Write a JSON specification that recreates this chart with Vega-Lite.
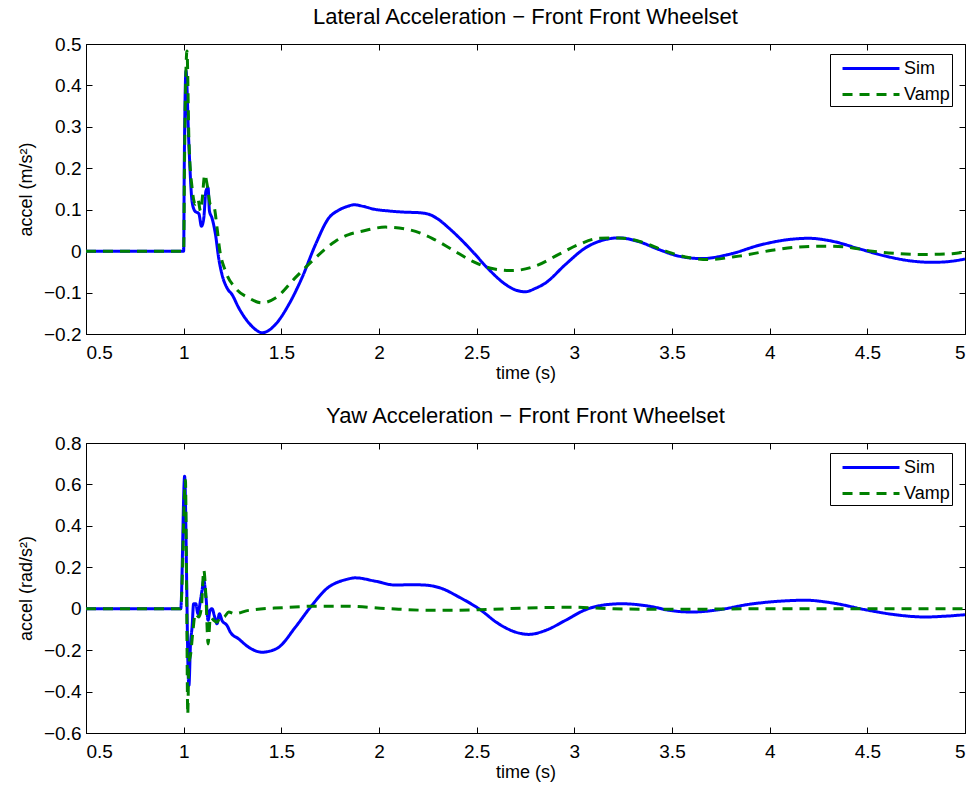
{
  "$schema": "https://vega.github.io/schema/vega-lite/v6.json",
  "background": "white",
  "padding": {"left": 16, "top": 5, "right": 5, "bottom": 5},
  "config": {
    "font": "Liberation Sans",
    "view": {"stroke": "black", "strokeWidth": 1},
    "axis": {
      "grid": false, "domainColor": "black", "domainWidth": 1, "tickColor": "black", "tickWidth": 1, "tickSize": -6,
      "labelColor": "black", "labelFontSize": 19,
      "titleColor": "black", "titleFontSize": 18, "titleFontWeight": "normal"
    },
    "axisX": {"labelPadding": 15, "titlePadding": 2},
    "axisY": {"labelPadding": 11, "titlePadding": 8},
    "title": {"fontSize": 22, "fontWeight": "normal", "color": "black", "offset": 6},
    "legend": {
      "orient": "none", "legendX": 744, "legendY": 10, "fillColor": "white", "strokeColor": "black",
      "padding": 2, "labelFontSize": 18, "labelColor": "black", "symbolType": "M-0.18,0H5",
      "symbolStrokeWidth": 3, "symbolSize": 484, "rowPadding": 4, "labelOffset": 47
    },
    "concat": {"spacing": 21}
  },
  "datasets": {
    "lat": [
      {"t": 0.5, "v": 0, "s": "Sim"}, {"t": 1.0, "v": 0, "s": "Sim"}, {"t": 1.003, "v": 0.2, "s": "Sim"},
      {"t": 1.012, "v": 0.435, "s": "Sim"}, {"t": 1.026, "v": 0.266, "s": "Sim"}, {"t": 1.043, "v": 0.12, "s": "Sim"},
      {"t": 1.057, "v": 0.097, "s": "Sim"}, {"t": 1.078, "v": 0.09, "s": "Sim"}, {"t": 1.091, "v": 0.06, "s": "Sim"},
      {"t": 1.103, "v": 0.08, "s": "Sim"}, {"t": 1.114, "v": 0.145, "s": "Sim"}, {"t": 1.125, "v": 0.153, "s": "Sim"},
      {"t": 1.132, "v": 0.097, "s": "Sim"}, {"t": 1.145, "v": 0.08, "s": "Sim"}, {"t": 1.163, "v": 0.04, "s": "Sim"},
      {"t": 1.179, "v": -0.016, "s": "Sim"}, {"t": 1.196, "v": -0.056, "s": "Sim"}, {"t": 1.222, "v": -0.089, "s": "Sim"},
      {"t": 1.248, "v": -0.105, "s": "Sim"}, {"t": 1.282, "v": -0.137, "s": "Sim"}, {"t": 1.333, "v": -0.173, "s": "Sim"},
      {"t": 1.37, "v": -0.19, "s": "Sim"}, {"t": 1.401, "v": -0.197, "s": "Sim"}, {"t": 1.43, "v": -0.193, "s": "Sim"},
      {"t": 1.47, "v": -0.177, "s": "Sim"}, {"t": 1.538, "v": -0.129, "s": "Sim"}, {"t": 1.606, "v": -0.064, "s": "Sim"},
      {"t": 1.675, "v": 0.016, "s": "Sim"}, {"t": 1.743, "v": 0.08, "s": "Sim"}, {"t": 1.794, "v": 0.099, "s": "Sim"},
      {"t": 1.845, "v": 0.109, "s": "Sim"}, {"t": 1.872, "v": 0.112, "s": "Sim"}, {"t": 1.92, "v": 0.108, "s": "Sim"},
      {"t": 1.977, "v": 0.101, "s": "Sim"}, {"t": 2.05, "v": 0.097, "s": "Sim"}, {"t": 2.135, "v": 0.094, "s": "Sim"},
      {"t": 2.2, "v": 0.093, "s": "Sim"}, {"t": 2.255, "v": 0.089, "s": "Sim"}, {"t": 2.3, "v": 0.078, "s": "Sim"},
      {"t": 2.357, "v": 0.056, "s": "Sim"}, {"t": 2.42, "v": 0.028, "s": "Sim"}, {"t": 2.477, "v": 0.0, "s": "Sim"},
      {"t": 2.562, "v": -0.044, "s": "Sim"}, {"t": 2.647, "v": -0.08, "s": "Sim"}, {"t": 2.7, "v": -0.094, "s": "Sim"},
      {"t": 2.75, "v": -0.098, "s": "Sim"}, {"t": 2.8, "v": -0.09, "s": "Sim"}, {"t": 2.852, "v": -0.077, "s": "Sim"},
      {"t": 2.955, "v": -0.032, "s": "Sim"}, {"t": 3.057, "v": 0.008, "s": "Sim"}, {"t": 3.159, "v": 0.028, "s": "Sim"},
      {"t": 3.228, "v": 0.032, "s": "Sim"}, {"t": 3.33, "v": 0.023, "s": "Sim"}, {"t": 3.432, "v": 0.004, "s": "Sim"},
      {"t": 3.534, "v": -0.012, "s": "Sim"}, {"t": 3.654, "v": -0.018, "s": "Sim"}, {"t": 3.79, "v": -0.008, "s": "Sim"},
      {"t": 3.961, "v": 0.016, "s": "Sim"}, {"t": 4.098, "v": 0.028, "s": "Sim"}, {"t": 4.2, "v": 0.031, "s": "Sim"},
      {"t": 4.32, "v": 0.024, "s": "Sim"}, {"t": 4.456, "v": 0.006, "s": "Sim"}, {"t": 4.593, "v": -0.012, "s": "Sim"},
      {"t": 4.729, "v": -0.024, "s": "Sim"}, {"t": 4.832, "v": -0.027, "s": "Sim"}, {"t": 4.92, "v": -0.025, "s": "Sim"},
      {"t": 5.0, "v": -0.019, "s": "Sim"},
      {"t": 0.5, "v": 0, "s": "Vamp"}, {"t": 1.0, "v": 0, "s": "Vamp"}, {"t": 1.004, "v": 0.2, "s": "Vamp"},
      {"t": 1.017, "v": 0.483, "s": "Vamp"}, {"t": 1.027, "v": 0.266, "s": "Vamp"}, {"t": 1.043, "v": 0.153, "s": "Vamp"},
      {"t": 1.06, "v": 0.113, "s": "Vamp"}, {"t": 1.073, "v": 0.125, "s": "Vamp"}, {"t": 1.086, "v": 0.097, "s": "Vamp"},
      {"t": 1.094, "v": 0.121, "s": "Vamp"}, {"t": 1.108, "v": 0.185, "s": "Vamp"}, {"t": 1.12, "v": 0.161, "s": "Vamp"},
      {"t": 1.137, "v": 0.113, "s": "Vamp"}, {"t": 1.154, "v": 0.109, "s": "Vamp"}, {"t": 1.171, "v": 0.056, "s": "Vamp"},
      {"t": 1.183, "v": 0.008, "s": "Vamp"}, {"t": 1.214, "v": -0.048, "s": "Vamp"}, {"t": 1.265, "v": -0.089, "s": "Vamp"},
      {"t": 1.333, "v": -0.113, "s": "Vamp"}, {"t": 1.401, "v": -0.125, "s": "Vamp"}, {"t": 1.47, "v": -0.113, "s": "Vamp"},
      {"t": 1.572, "v": -0.064, "s": "Vamp"}, {"t": 1.675, "v": -0.016, "s": "Vamp"}, {"t": 1.777, "v": 0.024, "s": "Vamp"},
      {"t": 1.845, "v": 0.04, "s": "Vamp"}, {"t": 1.913, "v": 0.048, "s": "Vamp"}, {"t": 2.033, "v": 0.058, "s": "Vamp"},
      {"t": 2.152, "v": 0.052, "s": "Vamp"}, {"t": 2.272, "v": 0.031, "s": "Vamp"}, {"t": 2.374, "v": 0.004, "s": "Vamp"},
      {"t": 2.477, "v": -0.024, "s": "Vamp"}, {"t": 2.579, "v": -0.042, "s": "Vamp"}, {"t": 2.681, "v": -0.047, "s": "Vamp"},
      {"t": 2.801, "v": -0.036, "s": "Vamp"}, {"t": 2.92, "v": -0.008, "s": "Vamp"}, {"t": 3.023, "v": 0.016, "s": "Vamp"},
      {"t": 3.125, "v": 0.031, "s": "Vamp"}, {"t": 3.228, "v": 0.032, "s": "Vamp"}, {"t": 3.33, "v": 0.024, "s": "Vamp"},
      {"t": 3.467, "v": 0.0, "s": "Vamp"}, {"t": 3.569, "v": -0.014, "s": "Vamp"}, {"t": 3.688, "v": -0.02, "s": "Vamp"},
      {"t": 3.842, "v": -0.012, "s": "Vamp"}, {"t": 4.012, "v": 0.002, "s": "Vamp"}, {"t": 4.149, "v": 0.01, "s": "Vamp"},
      {"t": 4.268, "v": 0.012, "s": "Vamp"}, {"t": 4.388, "v": 0.01, "s": "Vamp"}, {"t": 4.525, "v": 0.0, "s": "Vamp"},
      {"t": 4.661, "v": -0.006, "s": "Vamp"}, {"t": 4.798, "v": -0.008, "s": "Vamp"}, {"t": 4.934, "v": -0.006, "s": "Vamp"},
      {"t": 5.0, "v": -0.002, "s": "Vamp"}
    ],
    "yaw": [
      {"t": 0.5, "v": 0, "s": "Sim"}, {"t": 0.985, "v": 0, "s": "Sim"}, {"t": 1.005, "v": 0.64, "s": "Sim"},
      {"t": 1.016, "v": 0.089, "s": "Sim"}, {"t": 1.021, "v": -0.234, "s": "Sim"}, {"t": 1.027, "v": -0.37, "s": "Sim"},
      {"t": 1.035, "v": -0.17, "s": "Sim"}, {"t": 1.043, "v": -0.089, "s": "Sim"}, {"t": 1.051, "v": 0.024, "s": "Sim"},
      {"t": 1.062, "v": 0.024, "s": "Sim"}, {"t": 1.073, "v": -0.024, "s": "Sim"}, {"t": 1.086, "v": 0.041, "s": "Sim"},
      {"t": 1.094, "v": 0.089, "s": "Sim"}, {"t": 1.103, "v": 0.138, "s": "Sim"}, {"t": 1.114, "v": 0.057, "s": "Sim"},
      {"t": 1.125, "v": -0.056, "s": "Sim"}, {"t": 1.135, "v": -0.008, "s": "Sim"}, {"t": 1.145, "v": 0.0, "s": "Sim"},
      {"t": 1.159, "v": -0.04, "s": "Sim"}, {"t": 1.171, "v": -0.073, "s": "Sim"}, {"t": 1.183, "v": -0.024, "s": "Sim"},
      {"t": 1.196, "v": -0.056, "s": "Sim"}, {"t": 1.222, "v": -0.081, "s": "Sim"}, {"t": 1.239, "v": -0.113, "s": "Sim"},
      {"t": 1.282, "v": -0.146, "s": "Sim"}, {"t": 1.333, "v": -0.186, "s": "Sim"}, {"t": 1.401, "v": -0.21, "s": "Sim"},
      {"t": 1.44, "v": -0.205, "s": "Sim"}, {"t": 1.487, "v": -0.186, "s": "Sim"}, {"t": 1.572, "v": -0.089, "s": "Sim"},
      {"t": 1.657, "v": 0.017, "s": "Sim"}, {"t": 1.743, "v": 0.105, "s": "Sim"}, {"t": 1.794, "v": 0.13, "s": "Sim"},
      {"t": 1.828, "v": 0.14, "s": "Sim"}, {"t": 1.879, "v": 0.149, "s": "Sim"}, {"t": 1.981, "v": 0.133, "s": "Sim"},
      {"t": 2.084, "v": 0.114, "s": "Sim"}, {"t": 2.16, "v": 0.116, "s": "Sim"}, {"t": 2.238, "v": 0.114, "s": "Sim"},
      {"t": 2.323, "v": 0.097, "s": "Sim"}, {"t": 2.408, "v": 0.057, "s": "Sim"}, {"t": 2.511, "v": 0.0, "s": "Sim"},
      {"t": 2.613, "v": -0.073, "s": "Sim"}, {"t": 2.699, "v": -0.113, "s": "Sim"}, {"t": 2.767, "v": -0.124, "s": "Sim"},
      {"t": 2.852, "v": -0.105, "s": "Sim"}, {"t": 2.955, "v": -0.056, "s": "Sim"}, {"t": 3.057, "v": -0.005, "s": "Sim"},
      {"t": 3.159, "v": 0.019, "s": "Sim"}, {"t": 3.244, "v": 0.024, "s": "Sim"}, {"t": 3.347, "v": 0.017, "s": "Sim"},
      {"t": 3.432, "v": 0.003, "s": "Sim"}, {"t": 3.467, "v": -0.005, "s": "Sim"}, {"t": 3.603, "v": -0.016, "s": "Sim"},
      {"t": 3.74, "v": -0.005, "s": "Sim"}, {"t": 3.893, "v": 0.021, "s": "Sim"}, {"t": 4.047, "v": 0.036, "s": "Sim"},
      {"t": 4.184, "v": 0.041, "s": "Sim"}, {"t": 4.32, "v": 0.028, "s": "Sim"}, {"t": 4.491, "v": -0.005, "s": "Sim"},
      {"t": 4.627, "v": -0.027, "s": "Sim"}, {"t": 4.798, "v": -0.04, "s": "Sim"}, {"t": 4.9, "v": -0.036, "s": "Sim"},
      {"t": 5.0, "v": -0.029, "s": "Sim"},
      {"t": 0.5, "v": 0, "s": "Vamp"}, {"t": 0.985, "v": 0, "s": "Vamp"}, {"t": 1.009, "v": 0.62, "s": "Vamp"},
      {"t": 1.015, "v": 0.1, "s": "Vamp"}, {"t": 1.021, "v": -0.51, "s": "Vamp"}, {"t": 1.026, "v": -0.267, "s": "Vamp"},
      {"t": 1.036, "v": -0.218, "s": "Vamp"}, {"t": 1.046, "v": -0.121, "s": "Vamp"}, {"t": 1.06, "v": -0.024, "s": "Vamp"},
      {"t": 1.078, "v": -0.04, "s": "Vamp"}, {"t": 1.091, "v": 0.008, "s": "Vamp"}, {"t": 1.103, "v": 0.186, "s": "Vamp"},
      {"t": 1.114, "v": 0.057, "s": "Vamp"}, {"t": 1.125, "v": -0.17, "s": "Vamp"}, {"t": 1.137, "v": -0.04, "s": "Vamp"},
      {"t": 1.154, "v": -0.056, "s": "Vamp"}, {"t": 1.171, "v": -0.065, "s": "Vamp"}, {"t": 1.188, "v": -0.04, "s": "Vamp"},
      {"t": 1.205, "v": -0.04, "s": "Vamp"}, {"t": 1.231, "v": -0.016, "s": "Vamp"}, {"t": 1.26, "v": -0.024, "s": "Vamp"},
      {"t": 1.333, "v": -0.008, "s": "Vamp"}, {"t": 1.504, "v": 0.005, "s": "Vamp"}, {"t": 1.675, "v": 0.012, "s": "Vamp"},
      {"t": 1.828, "v": 0.012, "s": "Vamp"}, {"t": 2.05, "v": 0.0, "s": "Vamp"}, {"t": 2.272, "v": -0.008, "s": "Vamp"},
      {"t": 2.511, "v": -0.005, "s": "Vamp"}, {"t": 2.75, "v": 0.003, "s": "Vamp"}, {"t": 2.989, "v": 0.007, "s": "Vamp"},
      {"t": 3.2, "v": 0.0, "s": "Vamp"}, {"t": 3.5, "v": -0.003, "s": "Vamp"}, {"t": 4.0, "v": 0.0, "s": "Vamp"},
      {"t": 4.5, "v": 0.0, "s": "Vamp"}, {"t": 5.0, "v": 0.0, "s": "Vamp"}
    ]
  },
  "vconcat": [
    {
      "title": {"text": "Lateral Acceleration − Front Front Wheelset"},
      "width": 879, "height": 290,
      "data": {"name": "lat"},
      "layer": [
        {
          "mark": {"type": "line", "strokeWidth": 3, "clip": true, "interpolate": "monotone"},
          "encoding": {
            "x": {"field": "t", "type": "quantitative", "scale": {"domain": [0.5, 5], "nice": false, "zero": false},
                  "axis": {"title": "time (s)", "values": [0.5, 1, 1.5, 2, 2.5, 3, 3.5, 4, 4.5, 5], "format": "~g"}},
            "y": {"field": "v", "type": "quantitative", "scale": {"domain": [-0.2, 0.5], "nice": false, "zero": false},
                  "axis": {"title": "accel (m/s²)", "values": [-0.2, -0.1, 0, 0.1, 0.2, 0.3, 0.4, 0.5], "format": "~g"}},
            "color": {"field": "s", "type": "nominal", "scale": {"domain": ["Sim", "Vamp"], "range": ["#0000ff", "#008000"]}, "legend": {"title": null}},
            "strokeDash": {"field": "s", "type": "nominal", "scale": {"domain": ["Sim", "Vamp"], "range": [[1, 0], [10, 7]]}, "legend": {"title": null}}
          }
        },
        {
          "mark": {"type": "line", "opacity": 0},
          "encoding": {
            "x": {"field": "t", "type": "quantitative", "axis": {"orient": "top", "title": null, "labels": false, "domain": false, "values": [0.5, 1, 1.5, 2, 2.5, 3, 3.5, 4, 4.5, 5]}},
            "y": {"field": "v", "type": "quantitative", "axis": {"orient": "right", "title": null, "labels": false, "domain": false, "values": [-0.2, -0.1, 0, 0.1, 0.2, 0.3, 0.4, 0.5]}}
          }
        }
      ],
      "resolve": {"axis": {"x": "independent", "y": "independent"}}
    },
    {
      "title": {"text": "Yaw Acceleration − Front Front Wheelset"},
      "width": 879, "height": 290,
      "data": {"name": "yaw"},
      "layer": [
        {
          "mark": {"type": "line", "strokeWidth": 3, "clip": true, "interpolate": "monotone"},
          "encoding": {
            "x": {"field": "t", "type": "quantitative", "scale": {"domain": [0.5, 5], "nice": false, "zero": false},
                  "axis": {"title": "time (s)", "values": [0.5, 1, 1.5, 2, 2.5, 3, 3.5, 4, 4.5, 5], "format": "~g"}},
            "y": {"field": "v", "type": "quantitative", "scale": {"domain": [-0.6, 0.8], "nice": false, "zero": false},
                  "axis": {"title": "accel (rad/s²)", "values": [-0.6, -0.4, -0.2, 0, 0.2, 0.4, 0.6, 0.8], "format": "~g"}},
            "color": {"field": "s", "type": "nominal", "scale": {"domain": ["Sim", "Vamp"], "range": ["#0000ff", "#008000"]}, "legend": {"title": null}},
            "strokeDash": {"field": "s", "type": "nominal", "scale": {"domain": ["Sim", "Vamp"], "range": [[1, 0], [10, 7]]}, "legend": {"title": null}}
          }
        },
        {
          "mark": {"type": "line", "opacity": 0},
          "encoding": {
            "x": {"field": "t", "type": "quantitative", "axis": {"orient": "top", "title": null, "labels": false, "domain": false, "values": [0.5, 1, 1.5, 2, 2.5, 3, 3.5, 4, 4.5, 5]}},
            "y": {"field": "v", "type": "quantitative", "axis": {"orient": "right", "title": null, "labels": false, "domain": false, "values": [-0.6, -0.4, -0.2, 0, 0.2, 0.4, 0.6, 0.8]}}
          }
        }
      ],
      "resolve": {"axis": {"x": "independent", "y": "independent"}}
    }
  ],
  "resolve": {"scale": {"x": "independent", "y": "independent", "color": "independent", "strokeDash": "independent"}}
}
